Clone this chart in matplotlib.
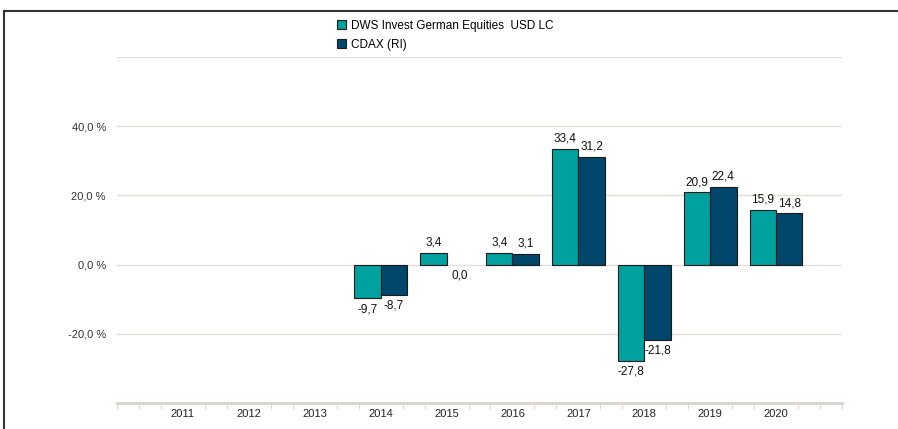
import matplotlib.pyplot as plt
from matplotlib.patches import Patch
from matplotlib.lines import Line2D

years = [2011, 2012, 2013, 2014, 2015, 2016, 2017, 2018, 2019, 2020]
fund = [None, None, None, -9.7, 3.4, 3.4, 33.4, -27.8, 20.9, 15.9]
cdax = [None, None, None, -8.7, 0.0, 3.1, 31.2, -21.8, 22.4, 14.8]
fund_name = "DWS Invest German Equities  USD LC"
cdax_name = "CDAX (RI)"
yticks = [-20, 0, 20, 40]

c_fund = "#00a19f"
c_cdax = "#00476b"
grid_c = "#e3e0d8"

plt.rcParams['font.family'] = ['Liberation Sans', 'DejaVu Sans']

fig = plt.figure(figsize=(8.98, 4.29), dpi=100)
ax = fig.add_axes([117 / 898, 1 - 403 / 429, 725 / 898, 346 / 429])

w = 0.4
for series, off, col in [(fund, -w / 2, c_fund), (cdax, w / 2, c_cdax)]:
    for yr, v in zip(years, series):
        if v is None:
            continue
        x = yr + off
        ax.bar(x, v, width=w, color=col, edgecolor="#1a1a1a",
               linewidth=0.8 if v != 0 else 0, zorder=3)
        lbl = f"{v:.1f}".replace(".", ",")
        if v > 0:
            ax.text(x, v + 1.2, lbl, ha="center", va="bottom", fontsize=8.5, color="#111111", zorder=4)
        else:
            ax.text(x, v - 1.4, lbl, ha="center", va="top", fontsize=8.5, color="#111111", zorder=4)

ax.set_xlim(2010, 2021)
ax.set_ylim(-40, 60)

ax.set_yticks(yticks)
ax.set_yticklabels([f"{t:.1f} %".replace(".", ",") for t in yticks], fontsize=8, color="#333333")
for g in [-20, 0, 20, 40, 60]:
    ax.axhline(g, color=grid_c, linewidth=1, zorder=1)
ax.tick_params(axis="y", length=0, pad=8)

ax.set_xticks(years)
ax.set_xticklabels([str(y) for y in years], fontsize=8, color="#222222")
minor = [y + d for y in range(2010, 2022) for d in (-1 / 3, 1 / 3) if 2010 < y + d < 2021]
ax.set_xticks(minor + [2010, 2021], minor=True)
ax.tick_params(axis="x", which="major", length=0, pad=4)
ax.tick_params(axis="x", which="minor", length=4, width=0.8, color="#ddd9d0", direction="out")

for s in ["top", "right", "left"]:
    ax.spines[s].set_visible(False)
ax.spines["bottom"].set_color("#d8d4cc")
ax.spines["bottom"].set_linewidth(2)

# frame lines of the picture
fig.add_artist(Line2D([4 / 898, 1], [1 - 11 / 429, 1 - 11 / 429], color="#333333", linewidth=1.5))
fig.add_artist(Line2D([4 / 898, 4 / 898], [0, 1 - 11 / 429], color="#333333", linewidth=1.5))

handles = [Patch(facecolor=c_fund, edgecolor="#1a1a1a", linewidth=0.8),
           Patch(facecolor=c_cdax, edgecolor="#1a1a1a", linewidth=0.8)]
fig.legend(handles, [fund_name, cdax_name], loc="upper left",
           bbox_to_anchor=(326 / 898, 1 - 9 / 429), frameon=False, fontsize=8.5,
           handlelength=0.8, handleheight=0.8, handletextpad=0.4, labelspacing=0.6)

fig.savefig("out.png", dpi=100)
